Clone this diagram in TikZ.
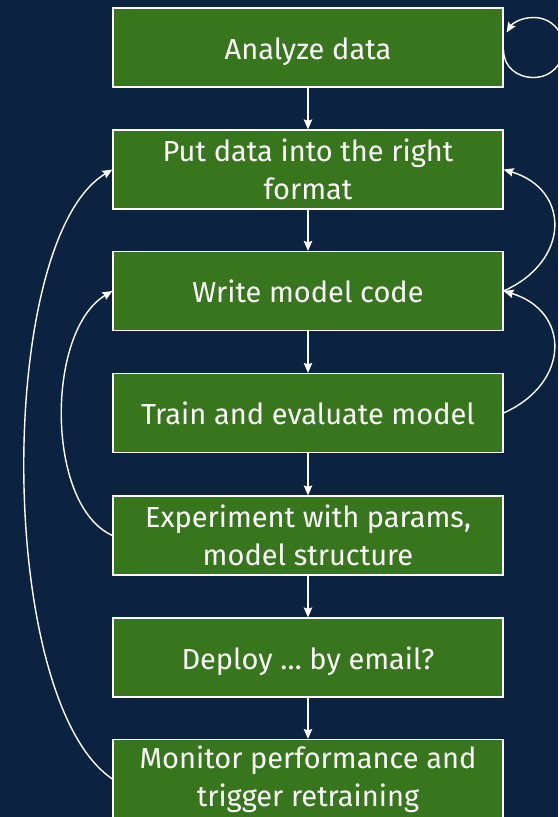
\documentclass[tikz,border=0pt]{standalone}
\usepackage{fontspec}
\setmainfont{Fira Sans}
\usetikzlibrary{arrows.meta,calc}
\definecolor{bgnavy}{HTML}{0B2240}
\definecolor{boxgreen}{HTML}{38761D}
\tikzset{
  stagebox/.style={draw=white, line width=1.2pt, fill=boxgreen, text=white,
    minimum width=390pt, minimum height=79pt, inner sep=0pt, align=center,
    font=\fontsize{29}{38}\selectfont},
  oneline/.style={text height=23pt, text depth=0pt},
  flow/.style={draw=white, line width=1.4pt, -{Stealth[length=10pt,width=8.5pt,inset=1.5pt]}}
}
\begin{document}
\begin{tikzpicture}[x=1pt,y=-1pt]
\fill[bgnavy] (0,0) rectangle (558,817);
\useasboundingbox (0,0) rectangle (558,817);
\node[stagebox,oneline] (b1) at (308,47.5) {Analyze data};
\node[stagebox] (b2) at (308,169.5) {Put data into the right\\format};
\node[stagebox,oneline] (b3) at (308,291) {Write model code};
\node[stagebox,oneline] (b4) at (308,413) {Train and evaluate model};
\node[stagebox] (b5) at (308,535.5) {Experiment with params,\\model structure};
\node[stagebox,oneline] (b6) at (308,657.5) {Deploy … by email?};
\node[stagebox] (b7) at (308,779) {Monitor performance and\\trigger retraining};
\draw[flow] (b1) -- (b2);
\draw[flow] (b2) -- (b3);
\draw[flow] (b3) -- (b4);
\draw[flow] (b4) -- (b5);
\draw[flow] (b5) -- (b6);
\draw[flow] (b6) -- (b7);
% self loop
\coordinate (lc) at ($(b1.east)+(30,0)$);
\draw[flow] ($(b1.east)+(0,3)$) .. controls ($(lc)+(-30,19)$) and ($(lc)+(-17,30)$) .. ($(lc)+(0,30)$)
  .. controls ($(lc)+(17,30)$) and ($(lc)+(30,17)$) .. ($(lc)+(30,0)$)
  .. controls ($(lc)+(30,-17)$) and ($(lc)+(17,-30)$) .. ($(lc)+(0,-30)$)
  .. controls ($(lc)+(-14,-30)$) and ($(lc)+(-22,-23)$) .. ($(b1.east)+(3,-15)$);
% right curves
\draw[flow] (b3.east) .. controls +(67,-30) and +(67,20) .. (b2.east);
\draw[flow] (b4.east) .. controls +(67,-30) and +(67,20) .. (b3.east);
% left curves
\draw[flow] (b5.west) .. controls +(-67,-30) and +(-67,40) .. (b3.west);
\draw[flow] (b7.west) .. controls +(-117,-79) and +(-117,70) .. (b2.west);
\end{tikzpicture}
\end{document}
